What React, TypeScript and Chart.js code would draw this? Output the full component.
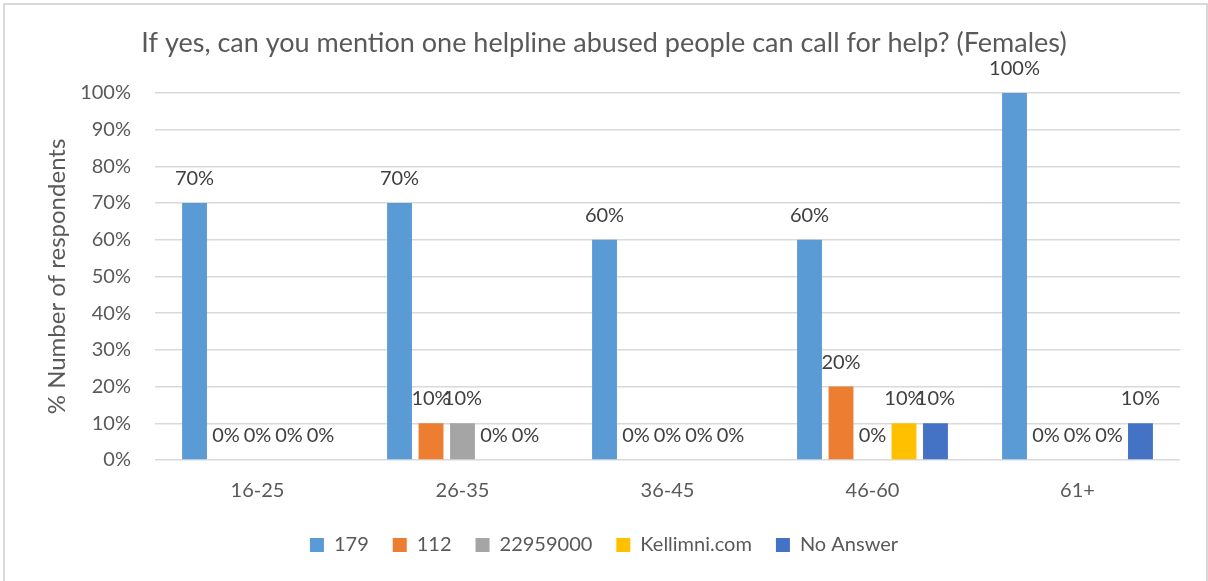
import React, { useEffect, useRef } from "react";
import { Chart, registerables } from "chart.js";

Chart.register(...registerables);

const categories = ["16-25", "26-35", "36-45", "46-60", "61+"];
const seriesNames = ["179", "112", "22959000", "Kellimni.com", "No Answer"];
const s179 = [70, 70, 60, 60, 100];
const s112 = [0, 10, 0, 20, 0];
const s22959000 = [0, 10, 0, 0, 0];
const sKellimni = [0, 0, 0, 10, 0];
const sNoAnswer = [0, 0, 0, 10, 10];
const seriesColors = ["#5B9BD5", "#ED7D31", "#A5A5A5", "#FFC000", "#4472C4"];
const yTicks = [0, 10, 20, 30, 40, 50, 60, 70, 80, 90, 100];

const FONT = "Lato";

const dataLabelPlugin = {
  id: "dataLabels",
  afterDatasetsDraw(chart: any) {
    const ctx = chart.ctx;
    ctx.save();
    ctx.font = `20px ${FONT}`;
    ctx.fillStyle = "#404040";
    ctx.textAlign = "center";
    ctx.textBaseline = "alphabetic";
    chart.data.datasets.forEach((ds: any, i: number) => {
      const meta = chart.getDatasetMeta(i);
      meta.data.forEach((el: any, j: number) => {
        const v = ds.data[j];
        ctx.fillText(`${v}%`, el.x, el.y - 18);
      });
    });
    ctx.restore();
  },
};

const borderPlugin = {
  id: "outerBorder",
  beforeDraw(chart: any) {
    const ctx = chart.ctx;
    ctx.save();
    ctx.fillStyle = "#ffffff";
    ctx.fillRect(0, 0, chart.width, chart.height);
    ctx.strokeStyle = "#D9D9D9";
    ctx.lineWidth = 2;
    ctx.strokeRect(4, 4, chart.width - 5, chart.height + 10);
    ctx.restore();
  },
};

export default function App() {
  const ref = useRef<HTMLCanvasElement | null>(null);
  useEffect(() => {
    if (!ref.current) return;
    const all = [s179, s112, s22959000, sKellimni, sNoAnswer];
    const chart = new Chart(ref.current, {
      type: "bar",
      data: {
        labels: categories,
        datasets: all.map((d, i) => ({
          label: seriesNames[i],
          data: d,
          backgroundColor: seriesColors[i],
          borderWidth: 0,
          categoryPercentage: 0.768,
          barPercentage: 0.79,
        })),
      },
      plugins: [borderPlugin, dataLabelPlugin],
      options: {
        responsive: false,
        animation: false,
        layout: { padding: { left: 28, right: 28, top: 0, bottom: 16 } },
        plugins: {
          title: {
            display: true,
            text: "If yes, can you mention one helpline abused people can call for help? (Females)",
            color: "#595959",
            font: { family: FONT, size: 27, weight: "normal" },
            padding: { top: 27, bottom: 33.5 },
          },
          legend: {
            position: "bottom",
            labels: {
              color: "#595959",
              font: { family: FONT, size: 20 },
              boxWidth: 14,
              boxHeight: 14,
              padding: 24,
            },
          },
          tooltip: { enabled: false },
        },
        scales: {
          x: {
            grid: { display: false },
            border: { display: false },
            ticks: {
              color: "#595959",
              font: { family: FONT, size: 20 },
              padding: 11,
            },
            afterFit(scale: any) {
              scale.height = 51;
            },
          },
          y: {
            min: 0,
            max: 100,
            afterBuildTicks(scale: any) {
              scale.ticks = yTicks.map((v) => ({ value: v }));
            },
            grid: { color: "#D9D9D9", lineWidth: 1.5, drawTicks: false },
            border: { display: false },
            ticks: {
              color: "#595959",
              font: { family: FONT, size: 20 },
              padding: 24,
              callback: (v: any) => `${v}%`,
            },
            title: {
              display: true,
              text: "% Number of respondents",
              color: "#595959",
              font: { family: FONT, size: 24, weight: "normal" },
              padding: { top: 15, bottom: 0 },
            },
            afterFit(scale: any) {
              scale.width = 127;
            },
          },
        },
      },
    });
    return () => chart.destroy();
  }, []);
  return (
    <div style={{ position: "absolute", left: 0, top: 0, width: 1208, height: 581 }}>
      <canvas ref={ref} width={1208} height={581} style={{ display: "block" }} />
    </div>
  );
}
